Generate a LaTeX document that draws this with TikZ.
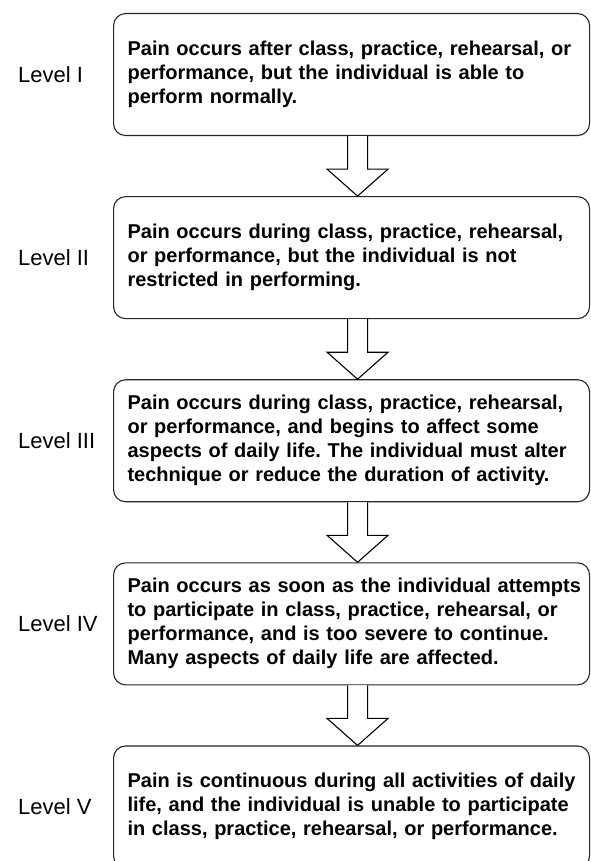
\documentclass[tikz,border=0pt]{standalone}
\usepackage{fontspec}
\setmainfont{Liberation Sans}
\usepackage{tikz}
\usetikzlibrary{positioning,calc}
\frenchspacing
% lines of one box, kept as set (no rewrapping)
\newcommand\painlines[1]{\begin{tabular}{@{}l@{}}#1\end{tabular}}

\begin{document}
\begin{tikzpicture}[
	level box/.style={rectangle,rounded corners=12pt,draw=black!85,line width=1.1pt,fill=white,
		text width=448pt,inner xsep=14pt,minimum height=122pt,align=left,
		font=\fontsize{20}{24}\selectfont\bfseries},
	level label/.style={anchor=west,inner sep=0pt,font=\fontsize{22}{26}\selectfont},
	flow arrow/.style={draw=black,line width=1.1pt,fill=white,line join=miter}]

    \useasboundingbox (0,0) rectangle (590pt,-861pt);

    \node[level box,anchor=north west] (b1) at (113pt,-13pt) {\painlines{Pain occurs after class, practice, rehearsal, or\\ performance, but the individual is able to\\ perform normally.}};
    \node[level box] (b2) [below = 60pt of b1] {\painlines{Pain occurs during class, practice, rehearsal,\\ or performance, but the individual is not\\ restricted in performing.}};
    \node[level box] (b3) [below = 60pt of b2] {\painlines{Pain occurs during class, practice, rehearsal,\\ or performance, and begins to affect some\\ aspects of daily life. The individual must alter\\ technique or reduce the duration of activity.}};
    \node[level box] (b4) [below = 60pt of b3] {\painlines{Pain occurs as soon as the individual attempts\\ to participate in class, practice, rehearsal, or\\ performance, and is too severe to continue.\\ Many aspects of daily life are affected.}};
    \node[level box] (b5) [below = 60pt of b4] {\painlines{Pain is continuous during all activities of daily\\ life, and the individual is unable to participate\\ in class, practice, rehearsal, or performance.}};

    \node[level label] (l1) at ([xshift=-95pt]b1.west) {Level I};
    \node[level label] (l2) at ([xshift=-95pt]b2.west) {Level II};
    \node[level label] (l3) at ([xshift=-95pt]b3.west) {Level III};
    \node[level label] (l4) at ([xshift=-95pt]b4.west) {Level IV};
    \node[level label] (l5) at ([xshift=-95pt]b5.west) {Level V};

    \foreach \a/\b in {b1/b2,b2/b3,b3/b4,b4/b5}
	\draw[flow arrow] ([xshift=-4pt]\a.south) -- ([xshift=-4pt,yshift=27pt]\b.north)
	-- ([xshift=-24.5pt,yshift=27pt]\b.north) -- ([xshift=6pt]\b.north)
	-- ([xshift=36.5pt,yshift=27pt]\b.north) -- ([xshift=16pt,yshift=27pt]\b.north)
	-- ([xshift=16pt]\a.south);

\end{tikzpicture}
\end{document}
